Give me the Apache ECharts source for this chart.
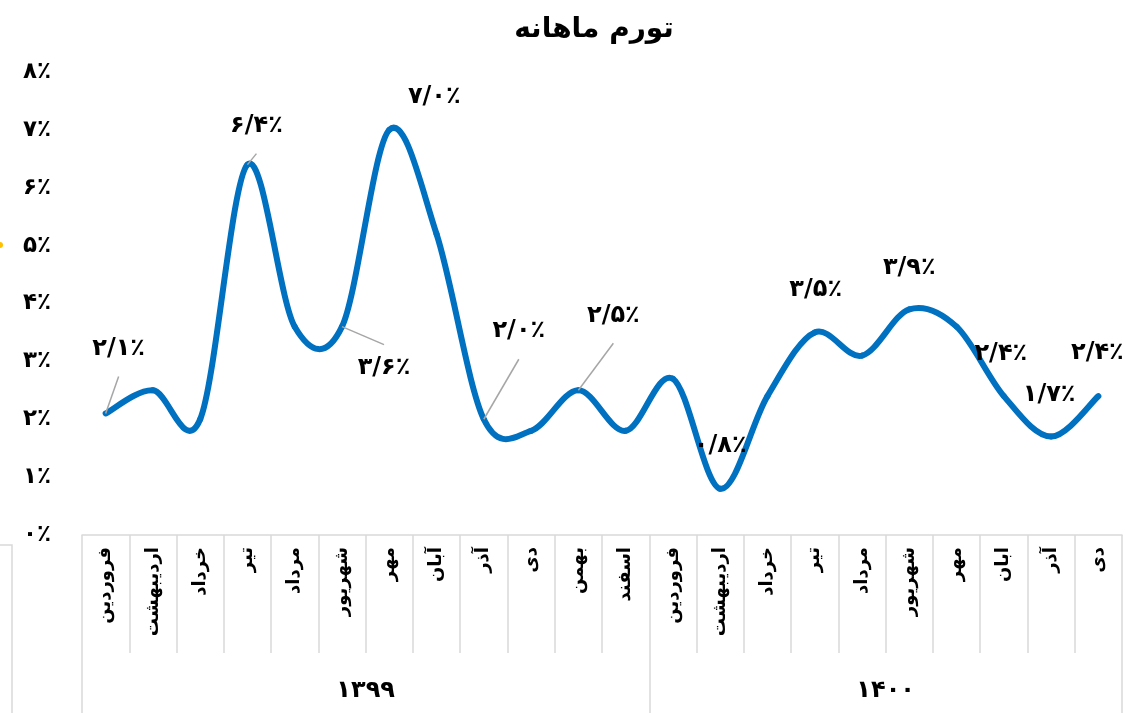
<!DOCTYPE html>
<html>
<head>
<meta charset="utf-8">
<title>تورم ماهانه</title>
<script src="https://cdn.jsdelivr.net/npm/echarts@6/dist/echarts.min.js"></script>
<style>
    html, body { margin: 0; padding: 0; background: #fff; }
    #chart { width: 1125px; height: 713px; }
</style>
</head>
<body>
<div id="chart"></div>
<script>
// months of each year (1400 writes آبان without madda, as in the source)
var months1399 = ['فروردین', 'اردیبهشت', 'خرداد', 'تیر', 'مرداد', 'شهریور', 'مهر', 'آبان', 'آذر', 'دی', 'بهمن', 'اسفند'];
var months1400 = ['فروردین', 'اردیبهشت', 'خرداد', 'تیر', 'مرداد', 'شهریور', 'مهر', 'ابان', 'آذر', 'دی'];
var years = ['۱۳۹۹', '۱۴۰۰'];

// monthly inflation, percent
var inflation1399 = [2.1, 2.5, 2.0, 6.4, 3.6, 3.6, 7.0, 5.2, 2.0, 1.8, 2.5, 1.8];
var inflation1400 = [2.7, 0.8, 2.4, 3.5, 3.1, 3.9, 3.6, 2.4, 1.7, 2.4];

var yMin = 0, yMax = 8, yStep = 1;

// which points carry a value label, and where the label sits (pixel offset from the point)
var labelPlacement = {
    0:  { dx: 13, dy: -65, leader: true },
    3:  { dx: 9,  dy: -39, leader: true },
    5:  { dx: 42, dy: 41,  leader: true },
    6:  { dx: 45, dy: -33 },
    8:  { dx: 35, dy: -88, leader: true },
    10: { dx: 35, dy: -75, leader: true },
    13: { dx: 0,  dy: -43 },
    15: { dx: 1,  dy: -43 },
    17: { dx: 0,  dy: -42 },
    19: { dx: -3, dy: -42 },
    20: { dx: -2, dy: -42 },
    21: { dx: -1, dy: -43 }
};

var months = months1399.concat(months1400);
var values = inflation1399.concat(inflation1400);

var FONT = 'DejaVu Sans';
var LINE_COLOR = '#0070C0';
var BOX_COLOR = '#d9d9d9';

function fa(str) {
    return String(str).replace(/[0-9]/g, function (d) { return '۰۱۲۳۴۵۶۷۸۹'[+d]; });
}
function pctLabel(v) {
    return fa(v.toFixed(1)).replace('.', '/') + '٪';
}

var chart = echarts.init(document.getElementById('chart'));

// Excel-like smoothed line: cubic segments with Catmull-Rom control points
function renderItem(params, api) {
    var i = params.dataIndex;
    var n = values.length;
    function pt(k) {
        k = Math.max(0, Math.min(n - 1, k));
        return api.coord([k, values[k]]);
    }
    var children = [];
    var p1 = pt(i);
    if (i < n - 1) {
        var p0 = pt(i - 1), p2 = pt(i + 1), p3 = pt(i + 2);
        children.push({
            type: 'bezierCurve',
            shape: {
                x1: p1[0], y1: p1[1], x2: p2[0], y2: p2[1],
                cpx1: p1[0] + (p2[0] - p0[0]) / 6, cpy1: p1[1] + (p2[1] - p0[1]) / 6,
                cpx2: p2[0] - (p3[0] - p1[0]) / 6, cpy2: p2[1] - (p3[1] - p1[1]) / 6
            },
            style: { stroke: LINE_COLOR, lineWidth: 6, fill: null, lineCap: 'round' }
        });
    }
    var lp = labelPlacement[i];
    if (lp) {
        var lx = p1[0] + lp.dx, ly = p1[1] + lp.dy;
        if (lp.leader) {
            children.push({
                type: 'line',
                shape: { x1: p1[0], y1: p1[1], x2: lx, y2: ly + (lp.dy < 0 ? 28 : -23) },
                style: { stroke: '#a6a6a6', lineWidth: 1.5 },
                z2: 5
            });
        }
        children.push({
            type: 'text',
            style: {
                text: pctLabel(values[i]), x: lx, y: ly,
                fill: '#000', font: 'bold 24px "' + FONT + '"',
                align: 'center', verticalAlign: 'middle'
            },
            z2: 10
        });
    }
    return { type: 'group', children: children };
}

chart.setOption({
    animation: false,
    backgroundColor: '#fff',
    title: {
        text: 'تورم ماهانه',
        left: 589,
        textAlign: 'center',
        top: 11,
        textStyle: { fontFamily: FONT, fontWeight: 'bold', fontSize: 28, color: '#000' }
    },
    grid: { left: 82, right: 3, top: 72, bottom: 178, containLabel: false },
    xAxis: [{
        type: 'category',
        data: months,
        position: 'bottom',
        boundaryGap: true,
        axisLine: { show: true, onZero: false, lineStyle: { color: BOX_COLOR, width: 1.5 } },
        axisTick: { show: true, length: 118, lineStyle: { color: BOX_COLOR, width: 1.5 } },
        axisLabel: {
            interval: 0, rotate: 90, margin: 12,
            fontFamily: FONT, fontWeight: 'bold', fontSize: 18, color: '#000'
        },
        splitLine: { show: false }
    }, {
        type: 'value',
        min: 0,
        max: months.length,
        position: 'bottom',
        axisLine: { show: false, onZero: false },
        axisTick: {
            show: true, length: 178,
            customValues: [0, months1399.length, months.length],
            lineStyle: { color: BOX_COLOR, width: 1.5 }
        },
        axisLabel: {
            customValues: [months1399.length / 2, months1399.length + months1400.length / 2],
            formatter: function (v) { return v < months1399.length ? years[0] : years[1]; },
            margin: 144,
            fontFamily: FONT, fontWeight: 'bold', fontSize: 24, color: '#000'
        },
        splitLine: { show: false }
    }],
    yAxis: {
        type: 'value',
        min: yMin, max: yMax, interval: yStep,
        axisLine: { show: false },
        axisTick: { show: false },
        splitLine: { show: false },
        axisLabel: {
            margin: 31,
            formatter: function (v) { return fa(v) + '٪'; },
            fontFamily: FONT, fontWeight: 'bold', fontSize: 23, color: '#000'
        }
    },
    series: [{
        type: 'custom',
        name: 'تورم ماهانه',
        xAxisIndex: 0,
        yAxisIndex: 0,
        clip: false,
        renderItem: renderItem,
        data: values.map(function (v, k) { return [k, v]; }),
        encode: { x: 0, y: 1 }
    }],
    graphic: [
        { type: 'rect', shape: { x: -5, y: 545, width: 17, height: 200 }, style: { fill: null, stroke: BOX_COLOR, lineWidth: 1.5 } },
        { type: 'circle', shape: { cx: 0, cy: 245, r: 3 }, style: { fill: '#FFC000' } }
    ]
});
</script>
</body>
</html>
